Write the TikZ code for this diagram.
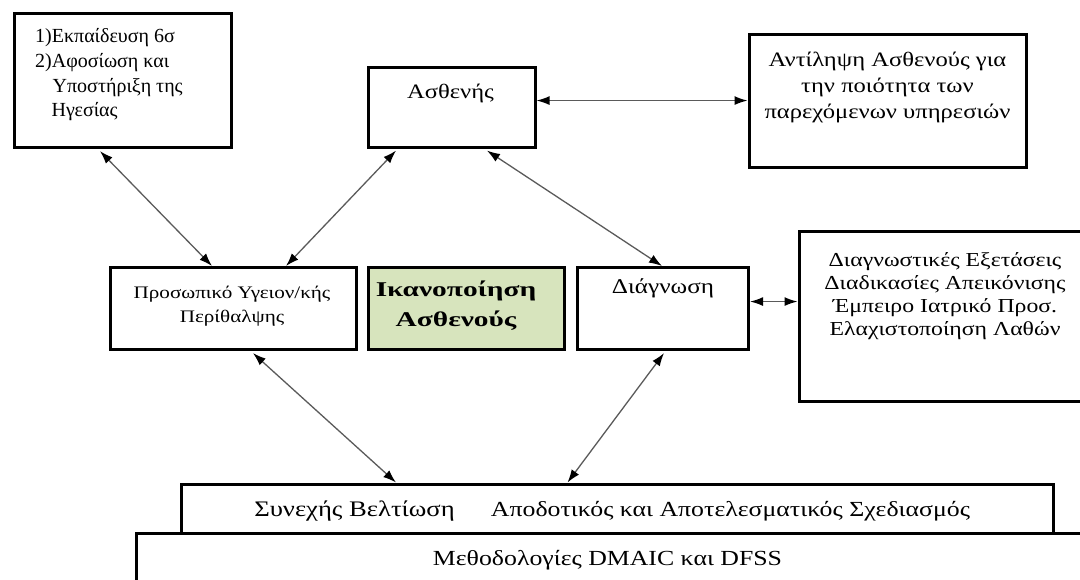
\documentclass[tikz,border=0pt]{standalone}
\usepackage{fontspec}
\setmainfont{Liberation Serif}[FakeStretch=1.2]
\newfontfamily\ikanfont{Liberation Serif}[FakeStretch=1.4]
\newfontfamily\plainfont{Liberation Serif}
\usetikzlibrary{arrows.meta,calc}
\definecolor{boxgreen}{HTML}{D7E4BD}
\definecolor{arrgray}{HTML}{5A5A5A}
\begin{document}
\begin{tikzpicture}[x=1pt,y=-1pt,
  box/.style={draw=black,line width=3.1pt,rectangle,inner sep=0pt,anchor=north west,fill=white},
  txt/.style={inner sep=0pt,anchor=base,align=center,font=\fontsize{21.5}{25}\selectfont},
  arr/.style={draw=arrgray,line width=1.3pt,{Latex[length=13pt,width=9pt,color=black]}-{Latex[length=13pt,width=9pt,color=black]}}]
\useasboundingbox (0,0) rectangle (1080,579);
% boxes
\node[box,minimum width=217pt,minimum height=134pt] (lead) at (12.5,12) {};
\node[box,minimum width=167pt,minimum height=80pt] (asth) at (366.5,65.5) {};
\node[box,minimum width=277pt,minimum height=133pt] (antil) at (747.5,32.5) {};
\node[box,minimum width=246pt,minimum height=82pt] (pros) at (108.5,266) {};
\node[box,minimum width=196pt,minimum height=82pt,fill=boxgreen] (ikan) at (366.5,266) {};
\node[box,minimum width=171pt,minimum height=82pt] (diag) at (576,266) {};
\node[box,minimum width=300pt,minimum height=170.5pt] (diagex) at (797.5,229.5) {};
\node[box,minimum width=960pt,minimum height=80pt] (meth) at (135,532) {};
\node[box,minimum width=872pt,minimum height=49.5pt] (syn) at (180,482.5) {};
% texts (multi-line nodes: base = baseline of last line)
\node[txt,anchor=base west,align=left,font=\plainfont\fontsize{20}{24.7}\selectfont] (leadt) at (35,116.7)
  {1)Εκπαίδευση 6σ\\2)Αφοσίωση και\\\hspace*{17.5pt}Υποστήριξη της\\\hspace*{16.5pt}Ηγεσίας};
\node[txt,font=\fontsize{20.5}{25}\selectfont] (astht) at (450.5,98.5) {Ασθενής};
\node[txt,font=\fontsize{20.5}{25.7}\selectfont] (antilt) at (887.5,118.1)
  {Αντίληψη Ασθενούς για\\την ποιότητα των\\παρεχόμενων υπηρεσιών};
\node[txt,font=\fontsize{17.6}{24}\selectfont] (prost) at (232,322.5)
  {Προσωπικό Υγειον/κής\\Περίθαλψης};
\node[txt,font=\ikanfont\fontsize{21}{30}\selectfont\bfseries] (ikant) at (456,326.7)
  {Ικανοποίηση\\Ασθενούς};
\node[txt,font=\fontsize{21}{23}\selectfont] (diagt) at (663,293.3) {Διάγνωση};
\node[txt,font=\fontsize{19.8}{22.8}\selectfont] (diagext) at (945,335.1)
  {Διαγνωστικές Εξετάσεις\\Διαδικασίες Απεικόνισης\\Έμπειρο Ιατρικό Προσ.\\Ελαχιστοποίηση Λαθών};
\node[txt,font=\fontsize{22.2}{25}\selectfont] (synt1) at (354.5,516.7) {Συνεχής Βελτίωση};
\node[txt] (synt2) at (730.5,516.7) {Αποδοτικός και Αποτελεσματικός Σχεδιασμός};
\node[txt] (metht) at (607.5,565) {Μεθοδολογίες DMAIC και DFSS};
% connectors
\draw[arr] ([xshift=87.5pt,yshift=-2pt]lead.south west) -- ([xshift=103.5pt]pros.north west);
\draw[arr] ([xshift=29.5pt,yshift=-2pt]asth.south west) -- ([xshift=177.5pt]pros.north west);
\draw[arr] ([xshift=120.5pt,yshift=-2pt]asth.south west) -- ([xshift=86pt]diag.north west);
\draw[arr] (asth.east |- antil.west) -- (antil.west);
\draw[arr] ([yshift=7pt]diag.east) -- ([yshift=7pt]diag.east -| diagex.west);
\draw[arr] ([xshift=144.5pt,yshift=-2pt]pros.south west) -- ([xshift=216pt]syn.north west);
\draw[arr] ([xshift=88pt,yshift=-2pt]diag.south west) -- ([xshift=387.5pt]syn.north west);
\end{tikzpicture}
\end{document}
